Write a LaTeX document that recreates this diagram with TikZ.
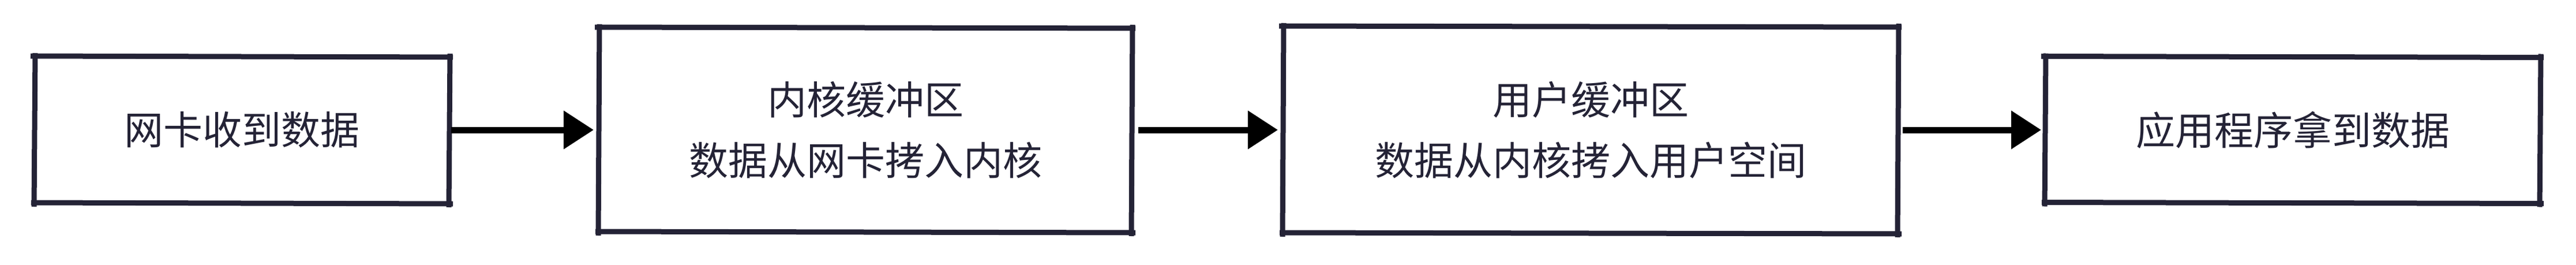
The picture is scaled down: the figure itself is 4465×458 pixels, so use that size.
\documentclass[tikz,border=0pt]{standalone}
\usepackage{fontspec}
\newfontfamily\cjk{Noto Sans CJK SC}
\usetikzlibrary{arrows.meta}
\definecolor{ink}{RGB}{36,35,54}
\newcommand\sketchbox[1]{%
  \draw[boxline] ([xshift=-7pt,yshift=1pt]#1.north west) -- ([xshift=6pt,yshift=-1pt]#1.north east);
  \draw[boxline] ([xshift=1pt,yshift=5pt]#1.north east) -- ([xshift=-1pt,yshift=-7pt]#1.south east);
  \draw[boxline] ([xshift=6pt,yshift=-1pt]#1.south east) -- ([xshift=-6pt,yshift=1pt]#1.south west);
  \draw[boxline] ([xshift=-1pt,yshift=-6pt]#1.south west) -- ([xshift=1pt,yshift=6pt]#1.north west);
}
\begin{document}
\begin{tikzpicture}[x=1pt,y=-1pt,
  box/.style={draw=none, inner sep=0pt, outer sep=0pt, align=center,
    text=ink, font=\cjk\fontsize{68}{105}\selectfont},
  boxline/.style={draw=ink, line width=9pt, line cap=butt},
  arr/.style={draw=black, line width=11pt, -{Triangle[length=52pt,width=64pt]}}]
\useasboundingbox[fill=white] (0,0) rectangle (4465,458);

\node[box, minimum width=719pt, minimum height=254pt] (b1) at (419.5,225) {网卡收到数据};
\node[box, minimum width=924pt, minimum height=354pt] (b2) at (1500,225) {内核缓冲区\\数据从网卡拷入内核};
\node[box, minimum width=1066pt, minimum height=358pt] (b3) at (2757,225) {用户缓冲区\\数据从内核拷入用户空间};
\node[box, minimum width=858pt, minimum height=253pt] (b4) at (3974,225) {应用程序拿到数据};

\sketchbox{b1}
\sketchbox{b2}
\sketchbox{b3}
\sketchbox{b4}

\draw[arr] ([xshift=3pt]b1.east) -- ([xshift=-9pt]b2.west);
\draw[arr] ([xshift=11pt]b2.east) -- ([xshift=-9pt]b3.west);
\draw[arr] ([xshift=8pt]b3.east) -- ([xshift=-7pt]b4.west);
\end{tikzpicture}
\end{document}
